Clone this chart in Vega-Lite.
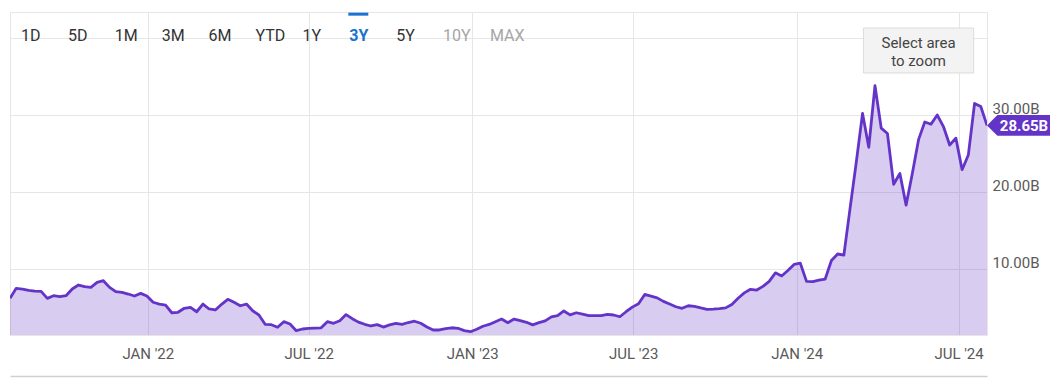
{
  "$schema": "https://vega.github.io/schema/vega-lite/v6.json",
  "width": 977,
  "height": 323,
  "autosize": {"type": "none"},
  "padding": {"left": 10, "top": 12, "right": 67, "bottom": 45},
  "background": "#ffffff",
  "config": {"view": {"stroke": "#e6e6e6", "strokeWidth": 1}, "font": "Roboto"},
  "datasets": {
    "series": [
      {"date": "2021-07-30", "value": 6.19}, {"date": "2021-08-06", "value": 7.49}, {"date": "2021-08-13", "value": 7.40}, {"date": "2021-08-20", "value": 7.22},
      {"date": "2021-08-27", "value": 7.12}, {"date": "2021-09-03", "value": 7.10}, {"date": "2021-09-10", "value": 6.19}, {"date": "2021-09-17", "value": 6.53},
      {"date": "2021-09-24", "value": 6.40}, {"date": "2021-10-01", "value": 6.53}, {"date": "2021-10-08", "value": 7.40}, {"date": "2021-10-15", "value": 7.92},
      {"date": "2021-10-22", "value": 7.70}, {"date": "2021-10-29", "value": 7.62}, {"date": "2021-11-05", "value": 8.27}, {"date": "2021-11-12", "value": 8.48},
      {"date": "2021-11-19", "value": 7.62}, {"date": "2021-11-26", "value": 7.05}, {"date": "2021-12-03", "value": 6.97}, {"date": "2021-12-10", "value": 6.75},
      {"date": "2021-12-17", "value": 6.49}, {"date": "2021-12-24", "value": 6.84}, {"date": "2021-12-31", "value": 6.49}, {"date": "2022-01-07", "value": 5.68},
      {"date": "2022-01-14", "value": 5.45}, {"date": "2022-01-21", "value": 5.32}, {"date": "2022-01-28", "value": 4.32}, {"date": "2022-02-04", "value": 4.38},
      {"date": "2022-02-11", "value": 4.90}, {"date": "2022-02-18", "value": 5.03}, {"date": "2022-02-25", "value": 4.45}, {"date": "2022-03-04", "value": 5.45},
      {"date": "2022-03-11", "value": 4.81}, {"date": "2022-03-18", "value": 4.68}, {"date": "2022-03-25", "value": 5.42}, {"date": "2022-04-01", "value": 6.06},
      {"date": "2022-04-08", "value": 5.68}, {"date": "2022-04-15", "value": 5.23}, {"date": "2022-04-22", "value": 5.45}, {"date": "2022-04-29", "value": 4.58},
      {"date": "2022-05-06", "value": 4.03}, {"date": "2022-05-13", "value": 2.82}, {"date": "2022-05-20", "value": 2.77}, {"date": "2022-05-27", "value": 2.43},
      {"date": "2022-06-03", "value": 3.16}, {"date": "2022-06-10", "value": 2.86}, {"date": "2022-06-17", "value": 1.99}, {"date": "2022-06-24", "value": 2.21},
      {"date": "2022-07-01", "value": 2.30}, {"date": "2022-07-08", "value": 2.33}, {"date": "2022-07-15", "value": 2.36}, {"date": "2022-07-22", "value": 3.16},
      {"date": "2022-07-29", "value": 2.95}, {"date": "2022-08-05", "value": 3.29}, {"date": "2022-08-12", "value": 4.08}, {"date": "2022-08-19", "value": 3.55},
      {"date": "2022-08-26", "value": 3.10}, {"date": "2022-09-02", "value": 2.82}, {"date": "2022-09-09", "value": 2.60}, {"date": "2022-09-16", "value": 2.78},
      {"date": "2022-09-23", "value": 2.46}, {"date": "2022-09-30", "value": 2.75}, {"date": "2022-10-07", "value": 2.95}, {"date": "2022-10-14", "value": 2.82},
      {"date": "2022-10-21", "value": 3.05}, {"date": "2022-10-28", "value": 3.22}, {"date": "2022-11-04", "value": 2.95}, {"date": "2022-11-11", "value": 2.48},
      {"date": "2022-11-18", "value": 2.08}, {"date": "2022-11-25", "value": 2.08}, {"date": "2022-12-02", "value": 2.25}, {"date": "2022-12-09", "value": 2.37},
      {"date": "2022-12-16", "value": 2.30}, {"date": "2022-12-23", "value": 2.00}, {"date": "2022-12-30", "value": 1.86}, {"date": "2023-01-06", "value": 2.17},
      {"date": "2023-01-13", "value": 2.57}, {"date": "2023-01-20", "value": 2.80}, {"date": "2023-01-27", "value": 3.15}, {"date": "2023-02-03", "value": 3.50},
      {"date": "2023-02-10", "value": 3.03}, {"date": "2023-02-17", "value": 3.50}, {"date": "2023-02-24", "value": 3.29}, {"date": "2023-03-03", "value": 3.08},
      {"date": "2023-03-10", "value": 2.75}, {"date": "2023-03-17", "value": 3.03}, {"date": "2023-03-24", "value": 3.27}, {"date": "2023-03-31", "value": 3.78},
      {"date": "2023-04-07", "value": 3.95}, {"date": "2023-04-14", "value": 4.55}, {"date": "2023-04-21", "value": 4.05}, {"date": "2023-04-28", "value": 4.32},
      {"date": "2023-05-05", "value": 4.15}, {"date": "2023-05-12", "value": 3.95}, {"date": "2023-05-19", "value": 3.94}, {"date": "2023-05-26", "value": 3.94},
      {"date": "2023-06-02", "value": 4.10}, {"date": "2023-06-09", "value": 4.03}, {"date": "2023-06-16", "value": 3.80}, {"date": "2023-06-23", "value": 4.45},
      {"date": "2023-06-30", "value": 5.05}, {"date": "2023-07-07", "value": 5.50}, {"date": "2023-07-14", "value": 6.70}, {"date": "2023-07-21", "value": 6.48},
      {"date": "2023-07-28", "value": 6.25}, {"date": "2023-08-04", "value": 5.80}, {"date": "2023-08-11", "value": 5.45}, {"date": "2023-08-18", "value": 5.10},
      {"date": "2023-08-25", "value": 4.90}, {"date": "2023-09-01", "value": 5.23}, {"date": "2023-09-08", "value": 5.15}, {"date": "2023-09-15", "value": 4.95},
      {"date": "2023-09-22", "value": 4.77}, {"date": "2023-09-29", "value": 4.80}, {"date": "2023-10-06", "value": 4.85}, {"date": "2023-10-13", "value": 4.95},
      {"date": "2023-10-20", "value": 5.40}, {"date": "2023-10-27", "value": 6.20}, {"date": "2023-11-03", "value": 6.90}, {"date": "2023-11-10", "value": 7.36},
      {"date": "2023-11-17", "value": 7.27}, {"date": "2023-11-24", "value": 7.75}, {"date": "2023-12-01", "value": 8.40}, {"date": "2023-12-08", "value": 9.50},
      {"date": "2023-12-15", "value": 9.10}, {"date": "2023-12-22", "value": 9.80}, {"date": "2023-12-29", "value": 10.60}, {"date": "2024-01-05", "value": 10.75},
      {"date": "2024-01-12", "value": 8.40}, {"date": "2024-01-19", "value": 8.35}, {"date": "2024-01-26", "value": 8.55}, {"date": "2024-02-02", "value": 8.70},
      {"date": "2024-02-09", "value": 11.10}, {"date": "2024-02-16", "value": 11.95}, {"date": "2024-02-23", "value": 11.80}, {"date": "2024-03-01", "value": 17.90},
      {"date": "2024-03-08", "value": 23.90}, {"date": "2024-03-15", "value": 30.20}, {"date": "2024-03-22", "value": 25.80}, {"date": "2024-03-29", "value": 33.80},
      {"date": "2024-04-05", "value": 28.30}, {"date": "2024-04-12", "value": 27.60}, {"date": "2024-04-19", "value": 21.00}, {"date": "2024-04-26", "value": 22.40},
      {"date": "2024-05-03", "value": 18.30}, {"date": "2024-05-10", "value": 22.40}, {"date": "2024-05-17", "value": 26.80}, {"date": "2024-05-24", "value": 29.10},
      {"date": "2024-05-31", "value": 28.80}, {"date": "2024-06-07", "value": 30.00}, {"date": "2024-06-14", "value": 28.50}, {"date": "2024-06-21", "value": 26.10},
      {"date": "2024-06-28", "value": 27.00}, {"date": "2024-07-05", "value": 22.90}, {"date": "2024-07-12", "value": 24.80}, {"date": "2024-07-19", "value": 31.50},
      {"date": "2024-07-26", "value": 31.10}, {"date": "2024-08-02", "value": 28.65}
    ],
    "buttons": [
      {"label": "1D", "state": "normal"}, {"label": "5D", "state": "normal"}, {"label": "1M", "state": "normal"},
      {"label": "3M", "state": "normal"}, {"label": "6M", "state": "normal"}, {"label": "YTD", "state": "normal"},
      {"label": "1Y", "state": "normal"}, {"label": "3Y", "state": "active"}, {"label": "5Y", "state": "normal"},
      {"label": "10Y", "state": "disabled"}, {"label": "MAX", "state": "disabled"}
    ]
  },
  "layer": [
    {
      "data": {"name": "series"},
      "layer": [
        {
          "mark": {"type": "area", "fill": "#6434c8", "fillOpacity": 0.25, "clip": true},
          "encoding": {
            "x": {
              "field": "date", "type": "temporal",
              "scale": {"nice": false},
              "axis": {
                "orient": "bottom",
                "values": [
                  {"year": 2022, "month": 1, "date": 1}, {"year": 2022, "month": 7, "date": 1},
                  {"year": 2023, "month": 1, "date": 1}, {"year": 2023, "month": 7, "date": 1},
                  {"year": 2024, "month": 1, "date": 1}, {"year": 2024, "month": 7, "date": 1}
                ],
                "labelExpr": "upper(timeFormat(datum.value, '%b')) + \" '\" + timeFormat(datum.value, '%y')",
                "title": null,
                "offset": 41,
                "domain": true,
                "domainColor": "#d0d0d0",
                "domainWidth": 1.5,
                "ticks": false,
                "labelPadding": -23,
                "labelBaseline": "middle",
                "labelFont": "Roboto",
                "labelFontSize": 15,
                "labelColor": "#595959",
                "labelOverlap": false,
                "labelFlush": false,
                "grid": true,
                "gridColor": "#e6e6e6",
                "gridWidth": 1
              }
            },
            "y": {
              "field": "value", "type": "quantitative",
              "scale": {"domain": [1.43, 43.38], "nice": false, "zero": false},
              "axis": {
                "orient": "right",
                "values": [10, 20, 30, 40],
                "labelExpr": "datum.value >= 40 ? '' : format(datum.value, '.2f') + 'B'",
                "title": null,
                "domain": false,
                "ticks": false,
                "labelPadding": 5,
                "labelAlign": "left",
                "labelBaseline": "alphabetic",
                "labelOffset": -2,
                "labelFont": "Roboto",
                "labelFontSize": 15,
                "labelColor": "#595959",
                "grid": true,
                "gridColor": "#e6e6e6",
                "gridWidth": 1
              }
            }
          }
        },
        {
          "mark": {"type": "line", "color": "#6434c8", "strokeWidth": 2.8, "clip": true, "strokeJoin": "round"},
          "encoding": {
            "x": {"field": "date", "type": "temporal"},
            "y": {"field": "value", "type": "quantitative"}
          }
        },
        {
          "data": {"values": [{"note": "Select area to zoom"}]},
          "mark": {"type": "rect", "fill": "#f3f3f3", "stroke": "#dcdcdc", "strokeWidth": 1},
          "encoding": {
            "x": {"datum": {"year": 2024, "month": 3, "date": 16}, "type": "temporal"},
            "x2": {"datum": {"year": 2024, "month": 7, "date": 18}},
            "y": {"datum": 41.3, "type": "quantitative"},
            "y2": {"datum": 35.46}
          }
        },
        {
          "data": {"values": [{"note": "Select area\nto zoom"}]},
          "mark": {"type": "text", "align": "center", "baseline": "middle", "lineBreak": "\n", "lineHeight": 18, "font": "Roboto", "fontSize": 15, "color": "#444444"},
          "encoding": {
            "x": {"datum": {"year": 2024, "month": 5, "date": 17}, "type": "temporal"},
            "y": {"datum": 39.4, "type": "quantitative"},
            "text": {"field": "note"}
          }
        },
        {
          "transform": [
            {"window": [{"op": "row_number", "as": "rn"}], "sort": [{"field": "date", "order": "descending"}]},
            {"filter": "datum.rn === 1"}
          ],
          "mark": {"type": "point", "shape": "M0,0L0.33,-0.33L2,-0.33L2,0.33L0.33,0.33Z", "size": 3969, "filled": true, "color": "#6434c8", "opacity": 1, "strokeWidth": 0},
          "encoding": {
            "x": {"field": "date", "type": "temporal"},
            "y": {"field": "value", "type": "quantitative"}
          }
        },
        {
          "transform": [
            {"window": [{"op": "row_number", "as": "rn"}], "sort": [{"field": "date", "order": "descending"}]},
            {"filter": "datum.rn === 1"},
            {"calculate": "format(datum.value, '.2f') + 'B'", "as": "label"}
          ],
          "mark": {"type": "text", "align": "center", "baseline": "middle", "dx": 37, "dy": 1, "font": "Roboto", "fontSize": 15, "fontWeight": "bold", "color": "#ffffff"},
          "encoding": {
            "x": {"field": "date", "type": "temporal"},
            "y": {"field": "value", "type": "quantitative"},
            "text": {"field": "label"}
          }
        }
      ]
    },
    {
      "data": {"name": "buttons"},
      "layer": [
        {
          "transform": [{"filter": "datum.state !== 'active'"}],
          "mark": {"type": "text", "align": "left", "baseline": "middle", "font": "Roboto", "fontSize": 16, "dy": -2},
          "encoding": {
            "x": {"field": "label", "type": "nominal", "scale": {"type": "point", "domain": ["1D", "5D", "1M", "3M", "6M", "YTD", "1Y", "3Y", "5Y", "10Y", "MAX"], "range": [11, 480], "padding": 0}, "axis": null},
            "y": {"datum": 40, "type": "quantitative", "scale": {"domain": [1.43, 43.38], "nice": false, "zero": false}, "axis": null},
            "text": {"field": "label"},
            "color": {"field": "state", "type": "nominal", "scale": {"domain": ["normal", "active", "disabled"], "range": ["#333333", "#1a73cf", "#a6a6a6"]}, "legend": null}
          }
        },
        {
          "transform": [{"filter": "datum.state === 'active'"}],
          "mark": {"type": "text", "align": "left", "baseline": "middle", "font": "Roboto", "fontSize": 16, "fontWeight": "bold", "dy": -2, "color": "#1a73cf"},
          "encoding": {
            "x": {"field": "label", "type": "nominal", "axis": null},
            "y": {"datum": 40, "type": "quantitative", "axis": null},
            "text": {"field": "label"}
          }
        },
        {
          "transform": [{"filter": "datum.state === 'active'"}],
          "mark": {"type": "tick", "orient": "horizontal", "color": "#1a73cf", "thickness": 3, "size": 20, "xOffset": 9, "opacity": 1},
          "encoding": {
            "x": {"field": "label", "type": "nominal", "axis": null},
            "y": {"datum": 43.1, "type": "quantitative", "axis": null}
          }
        }
      ]
    }
  ],
  "resolve": {"scale": {"x": "independent", "y": "independent"}, "axis": {"x": "independent", "y": "independent"}}
}
